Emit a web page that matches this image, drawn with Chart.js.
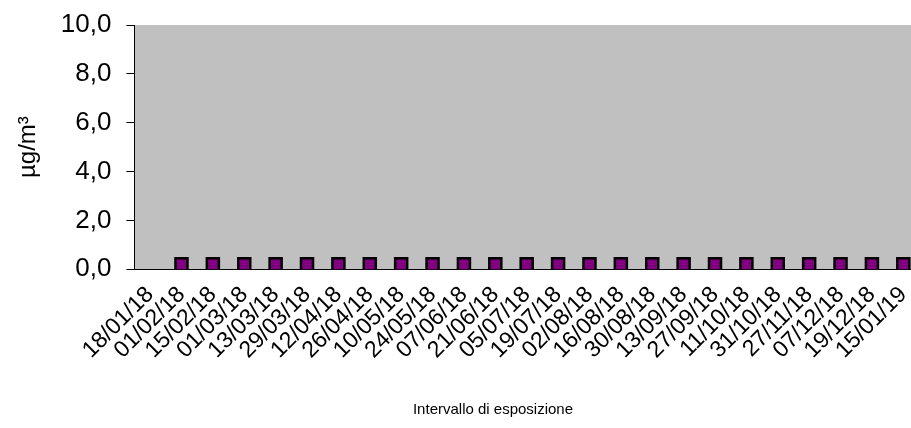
<!DOCTYPE html>
<html>
<head>
<meta charset="utf-8">
<script src="https://cdn.jsdelivr.net/npm/chart.js@4"></script>
<style>
  html, body { margin: 0; padding: 0; background: #fff; overflow: hidden; }
  #wrap { width: 930px; height: 428px; position: relative; }
</style>
</head>
<body>
<div id="wrap"><canvas id="chart"></canvas></div>
<script>
// dates of exposure intervals
const labels = ['18/01/18', '01/02/18', '15/02/18', '01/03/18', '13/03/18', '29/03/18', '12/04/18',
    '26/04/18', '10/05/18', '24/05/18', '07/06/18', '21/06/18', '05/07/18', '19/07/18', '02/08/18',
    '16/08/18', '30/08/18', '13/09/18', '27/09/18', '11/10/18', '31/10/18', '27/11/18', '07/12/18',
    '19/12/18', '15/01/19'];
const values = [null, 0.2, 0.2, 0.2, 0.2, 0.2, 0.2, 0.2, 0.2, 0.2, 0.2, 0.2, 0.2, 0.2, 0.2,
    0.2, 0.2, 0.2, 0.2, 0.2, 0.2, 0.2, 0.2, 0.2, 0.2];
const yTicks = [0, 2, 4, 6, 8, 10];
const yTitle = 'µg/m³';
const xTitle = 'Intervallo di esposizione';

const FONT = 'Liberation Sans, Arial, Helvetica, sans-serif';

// grey plot area
const plotBg = {
    id: 'plotBg',
    beforeDraw(chart) {
        const a = chart.chartArea, c = chart.ctx;
        c.save();
        c.fillStyle = '#c0c0c0';
        c.fillRect(a.left, a.top, a.right - a.left, a.bottom - a.top);
        c.restore();
    }
};

// x axis title, placed like the original
const xTitlePlugin = {
    id: 'xTitle',
    afterDraw(chart) {
        const c = chart.ctx;
        c.save();
        c.font = '15px ' + FONT;
        c.fillStyle = '#000';
        c.textAlign = 'center';
        c.textBaseline = 'middle';
        c.fillText(xTitle, 493, 410);
        c.restore();
    }
};

new Chart(document.getElementById('chart'), {
    type: 'line',
    data: {
        labels: labels,
        datasets: [{
            data: values,
            showLine: false,
            pointStyle: 'rect',
            pointRadius: 8.5,
            pointHoverRadius: 8.5,
            pointBackgroundColor: '#800080',
            pointBorderColor: '#000',
            pointBorderWidth: 2.5
        }]
    },
    options: {
        responsive: true,
        maintainAspectRatio: false,
        animation: false,
        layout: { padding: { top: 5, right: 0, bottom: 60, left: 10 } },
        plugins: { legend: { display: false }, tooltip: { enabled: false } },
        scales: {
            x: {
                offset: true,
                grid: { display: false },
                border: { display: true, color: '#000', width: 1 },
                ticks: {
                    autoSkip: false,
                    maxRotation: 45,
                    minRotation: 45,
                    padding: 4,
                    color: '#000',
                    font: { family: FONT, size: 23 }
                }
            },
            y: {
                min: 0,
                max: 10,
                afterBuildTicks(axis) { axis.ticks = yTicks.map(v => ({ value: v })); },
                grid: { drawOnChartArea: false, tickLength: 8, color: '#000' },
                border: { display: true, color: '#000', width: 1 },
                ticks: {
                    padding: 15,
                    color: '#000',
                    font: { family: FONT, size: 26, lineHeight: 0.77 },
                    callback: v => v.toFixed(1).replace('.', ',')
                },
                title: {
                    display: true,
                    text: yTitle,
                    color: '#000',
                    font: { family: FONT, size: 24 },
                    padding: { top: 4, bottom: 3 }
                }
            }
        }
    },
    plugins: [plotBg, xTitlePlugin]
});
</script>
</body>
</html>
